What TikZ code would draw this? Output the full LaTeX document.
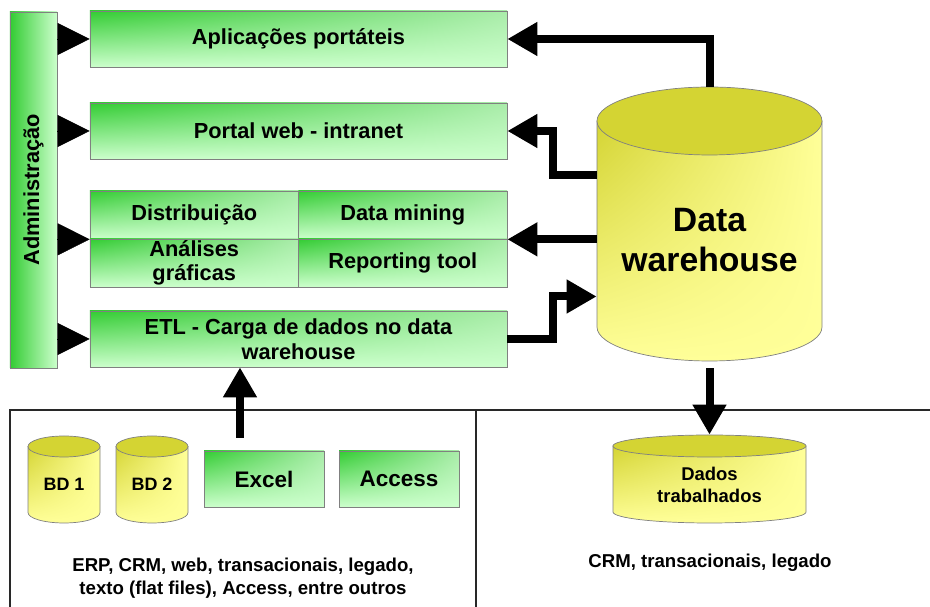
\documentclass[tikz,border=0pt]{standalone}
\usepackage{fontspec}
\setmainfont{Liberation Sans}
\usetikzlibrary{arrows.meta,shadings}
\definecolor{grn}{RGB}{51,204,51}
\definecolor{midgrn}{RGB}{170,236,170}
\definecolor{lgrn}{RGB}{204,255,204}
\definecolor{dyel}{RGB}{212,212,51}
\definecolor{lyel}{RGB}{255,255,153}
\definecolor{rim}{RGB}{128,128,128}
\definecolor{frm}{RGB}{40,40,40}

\begin{document}
\begin{tikzpicture}[
    x=0.2mm, y=0.2mm,
    box/.style={draw=rim, upper left=grn, upper right=midgrn, lower left=lgrn, lower right=lgrn, align=center, inner sep=0pt, font=\bfseries\fontsize{12.4}{14}\selectfont},
    wide/.style={box, minimum width=83.4mm, minimum height=11.2mm},
    cell/.style={box, minimum width=41.7mm, minimum height=9.6mm},
    src/.style={box, minimum width=24mm, minimum height=11.2mm, font=\bfseries\fontsize{12.8}{14}\selectfont},
    cylbody/.style={draw=rim, upper left=dyel, upper right=lyel, lower left=lyel, lower right=lyel},
    cyltop/.style={draw=rim, fill=dyel},
    tip/.style={-{Triangle[length=6.4mm,width=6.4mm]}, line width=0.2pt},
    flow/.style={line width=1.6mm, -{Triangle[length=6mm,width=6.4mm]}, line join=miter}
]
    \useasboundingbox (0,0) rectangle (930,607);

    % Administration bar
    \node[draw=rim, left color=grn, right color=lgrn, minimum width=9.4mm, minimum height=71.2mm] (adm) at (33.5,417) {};
    \node[rotate=90, font=\bfseries\fontsize{12.4}{14}\selectfont] (admtxt) at (adm) {Administração};

    % Front-end boxes
    \node[wide] (apl) at (298.5,568) {Aplicações portáteis};
    \node[wide] (web) at (298.5,476) {Portal web - intranet};
    \node[cell] (dist) at (194.25,392) {Distribuição};
    \node[cell] (dm) at (402.75,392) {Data mining};
    \node[cell] (ana) at (194.25,344) {Análises\\gráficas};
    \node[cell] (rep) at (402.75,344) {Reporting tool};
    \node[wide] (etl) at (298.5,268) {ETL - Carga de dados no data\\warehouse};
    \foreach \b in {apl,web,etl}
        \draw[tip] (adm.east |- \b.west) -- (\b.west);
    \draw[tip] (adm.east |- dist.south west) -- (dist.south west);

    % Cylinders
    \foreach \nm/\cx/\yt/\yb/\rx/\ry in {dw/709.5/486/280/112.5/34, bd1/64/160.5/94.5/36/10.5, bd2/152/160.5/94.5/36/10.5, dt/709.5/161/95/96.5/11} {
        \shade[cylbody] (\cx-\rx,\yt) -- (\cx-\rx,\yb) arc[start angle=180, end angle=360, x radius=\rx, y radius=\ry] -- (\cx+\rx,\yt) -- cycle;
        \filldraw[cyltop] (\cx,\yt) ellipse[x radius=\rx, y radius=\ry];
        \node[minimum width={2*\rx*0.2mm}, minimum height={(\yt-\yb+2*\ry)*0.2mm}, inner sep=0pt] (\nm) at ({\cx},{(\yt+\yb)/2}) {};
    }
    \node[align=center, font=\bfseries\fontsize{19.2}{22.7}\selectfont] (dwtxt) at (709.5,367) {Data\\warehouse};
    \node[align=center, font=\bfseries\fontsize{10.5}{12.5}\selectfont] (dttxt) at (709.5,122) {Dados\\trabalhados};
    \node[font=\bfseries\fontsize{10.2}{12}\selectfont] (bd1txt) at (64,123) {BD 1};
    \node[font=\bfseries\fontsize{10.2}{12}\selectfont] (bd2txt) at (152,123) {BD 2};

    % Sources
    \node[src] (xls) at (264,128) {Excel};
    \node[src] (acc) at (399,128) {Access};
    \draw[frm, line width=0.3mm] (10,-5) |- (940,197);
    \draw[frm, line width=0.3mm] (476,197) -- (476,-5);
    \node[align=center, font=\bfseries\fontsize{10.6}{13}\selectfont] (srctxt) at (243,29) {ERP, CRM, web, transacionais, legado,\\texto (flat files), Access, entre outros};
    \node[font=\bfseries\fontsize{10.6}{12}\selectfont] (crmtxt) at (710,44) {CRM, transacionais, legado};

    % Flows
    \draw[flow] (dw.north) |- (apl.east);
    \draw[flow] ([yshift=9.7mm]dw.west) -- ++(-44,0) |- (web.east);
    \draw[flow] (dw.west |- dm.south east) -- (dm.south east);
    \draw[flow] (etl.east) -- ++(46,0) |- ([yshift=-14.5mm]dw.west);
    \draw[flow, shorten <=1.4mm] (dw.south) -- (dt.north);
    \coordinate (up) at (240,169);
    \draw[flow] (up) -- (up |- etl.south);
\end{tikzpicture}
\end{document}
